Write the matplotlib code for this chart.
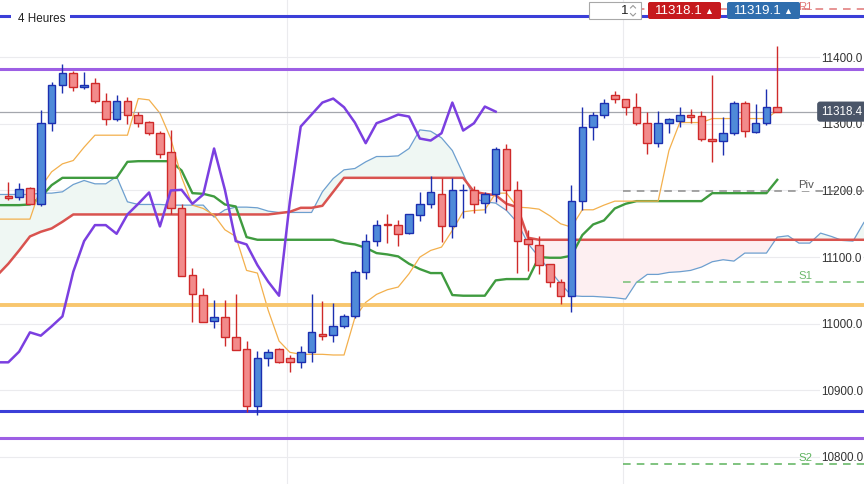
import matplotlib.pyplot as plt
import numpy as np
from matplotlib.patches import FancyBboxPatch, Rectangle
from matplotlib.ticker import FormatStrFormatter

plt.rcParams['font.family'] = ['Liberation Sans', 'DejaVu Sans']

# 4h candles, index 0..71
opens = [11192, 11190, 11203, 11180, 11301, 11358, 11377, 11355, 11361, 11335,
         11308, 11335, 11314, 11303, 11287, 11258, 11173, 11073, 11043, 11004,
         11010, 10980, 10962, 10876, 10948, 10962, 10948, 10943, 10958, 10985,
         10983, 10996, 11011, 11078, 11124, 11150, 11148, 11136, 11163, 11180,
         11195, 11146, 11200, 11201, 11181, 11194, 11263, 11201, 11127, 11118,
         11090, 11063, 11042, 11184, 11296, 11314, 11343, 11338, 11325, 11302,
         11271, 11301, 11305, 11314, 11312, 11278, 11275, 11286, 11332, 11288,
         11301, 11326]
highs = [11212, 11211, 11205, 11321, 11363, 11390, 11379, 11378, 11369, 11347,
         11343, 11340, 11318, 11305, 11290, 11291, 11180, 11084, 11054, 11036,
         11035, 11045, 10974, 10959, 10962, 10963, 10953, 10967, 11044, 11034,
         11031, 11014, 11080, 11135, 11156, 11165, 11155, 11165, 11198, 11222,
         11219, 11218, 11209, 11206, 11198, 11266, 11270, 11214, 11140, 11132,
         11090, 11067, 11208, 11325, 11318, 11337, 11349, 11338, 11346, 11318,
         11319, 11309, 11326, 11323, 11319, 11373, 11311, 11334, 11334, 11330,
         11352, 11417]
lows = [11186, 11185, 11179, 11177, 11290, 11347, 11350, 11352, 11331, 11299,
        11305, 11300, 11296, 11283, 11249, 11164, 11071, 11003, 11002, 10994,
        10967, 10960, 10868, 10863, 10937, 10941, 10927, 10934, 10942, 10976,
        10972, 10994, 11009, 11067, 11116, 11121, 11117, 11134, 11154, 11174,
        11122, 11129, 11158, 11166, 11166, 11183, 11170, 11076, 11079, 11074,
        11055, 11029, 11017, 11170, 11276, 11309, 11331, 11313, 11299, 11255,
        11266, 11287, 11296, 11301, 11275, 11243, 11254, 11284, 11281, 11287,
        11298, 11318]
closes = [11189, 11202, 11180, 11301, 11358, 11376, 11355, 11359, 11335, 11308,
          11335, 11314, 11302, 11287, 11255, 11173, 11072, 11045, 11003, 11010,
          10980, 10960, 10876, 10948, 10957, 10942, 10942, 10958, 10987, 10982,
          10996, 11011, 11078, 11124, 11148, 11148, 11135, 11164, 11180, 11197,
          11146, 11200, 11201, 11180, 11194, 11263, 11201, 11124, 11119, 11088,
          11063, 11042, 11184, 11296, 11314, 11332, 11338, 11325, 11302, 11271,
          11301, 11307, 11314, 11311, 11278, 11275, 11286, 11332, 11290, 11301,
          11326, 11318.4]

# Ichimoku lines, starting at index -1
tenkan = [11157, 11157, 11157, 11157, 11205, 11228, 11240, 11245, 11265, 11283,
          11283, 11283, 11283, 11338, 11336, 11316, 11278, 11220, 11178, 11173,
          11163, 11141, 11131, 11080, 11076, 11020, 10974, 10957, 10954, 10954,
          10954, 10953, 10953, 11009, 11032, 11044, 11051, 11055, 11075, 11100,
          11110, 11115, 11140, 11168, 11170, 11171, 11196, 11196, 11175, 11174,
          11172, 11162, 11150, 11145, 11171, 11171, 11178, 11184, 11184, 11184,
          11184, 11184, 11260, 11302, 11302, 11302, 11308, 11308, 11308, 11308,
          11308, 11308, 11320]
kijun = [11178, 11178, 11178, 11179, 11190, 11208, 11219, 11219, 11219, 11219,
         11219, 11219, 11243, 11244, 11244, 11244, 11244, 11230, 11196, 11195,
         11191, 11179, 11176, 11130, 11126, 11126, 11126, 11126, 11126, 11126,
         11126, 11126, 11121, 11119, 11114, 11106, 11104, 11101, 11090, 11082,
         11076, 11076, 11043, 11042, 11042, 11042, 11065, 11067, 11067, 11067,
         11100, 11099, 11099, 11102, 11133, 11149, 11155, 11173, 11180, 11184,
         11184, 11184, 11184, 11184, 11184, 11184, 11196, 11196, 11196, 11196,
         11196, 11196, 11216]
# senkou spans, index -1..79
span_a = [11194, 11194, 11194, 11194, 11196, 11196, 11198, 11209, 11215, 11210,
          11210, 11221, 11183, 11179, 11179, 11179, 11178, 11178, 11178, 11178,
          11160, 11171, 11175, 11175, 11174, 11169, 11167, 11167, 11167, 11167,
          11198, 11218, 11231, 11233, 11243, 11251, 11251, 11252, 11263, 11291,
          11289, 11279, 11260, 11225, 11188, 11183, 11181, 11170, 11152, 11120,
          11100, 11080, 11060, 11042, 11041, 11041, 11040, 11039, 11037, 11062,
          11074, 11074, 11077, 11078, 11080, 11085, 11093, 11096, 11094, 11106,
          11106, 11106, 11130, 11132, 11121, 11121, 11136, 11131, 11125, 11124,
          11152]
span_b = ([11073, 11090, 11110, 11131, 11138, 11143, 11153] + [11164] * 19 +
          [11166, 11168, 11174, 11174, 11177, 11198] + [11219] * 12 +
          [11198, 11195, 11193, 11180, 11175, 11129] + [11126] * 31)
lag = 26

# horizontal levels
blue_levels = [11462, 10869]
purple_levels = [11382, 10828]
orange_level = 11028
pivots = {'R1': 11472, 'Piv': 11199, 'S1': 11062, 'S2': 10790}
pivot_start = 56.8
last_price = 11318.4
bid, ask = '11318.1', '11319.1'
day_marks = [25.73, 56.76]

o = np.array(opens)
h = np.array(highs)
l = np.array(lows)
c = np.array(closes)
idx = np.arange(len(c))
ix1 = np.arange(-1, len(tenkan) - 1)
ixs = np.arange(-1, len(span_a) - 1)
sa = np.array(span_a)
sb = np.array(span_b)

fig = plt.figure(figsize=(8.64, 4.84), dpi=100)
ax = fig.add_axes([0, 0, 1, 1])
ax.set_xlim(-0.766, 79.01)
ax.set_ylim(10759.3, 11486)
for s in ax.spines.values():
    s.set_visible(False)

ax.set_yticks(np.arange(10800, 11401, 100))
ax.yaxis.set_major_formatter(FormatStrFormatter('%.1f'))
ax.yaxis.tick_right()
ax.tick_params(axis='y', length=0, pad=-31, labelsize=8.4, labelcolor='#333333')
for lbl in ax.get_yticklabels():
    lbl.set_bbox(dict(fc='white', ec='none', pad=1.0))
ax.set_xticks(day_marks)
ax.tick_params(axis='x', length=0, labelbottom=False)
ax.grid(True, color='#ebebee', lw=0.8)
ax.set_axisbelow(True)

# cloud
ax.fill_between(ixs, sa, sb, where=sa >= sb, interpolate=True, color='#eff7f3', lw=0, zorder=1)
ax.fill_between(ixs, sa, sb, where=sa < sb, interpolate=True, color='#fdeff1', lw=0, zorder=1)
ax.plot(ixs, sa, color='#6d9fcf', lw=0.9, zorder=2)
ax.plot(ixs, sb, color='#d9534f', lw=1.8, zorder=2)

ax.plot(ix1, kijun, color='#3f9b3f', lw=1.7, zorder=2.2)
ax.plot(ix1, tenkan, color='#f3b04d', lw=0.9, zorder=2.3)

# levels
for y in blue_levels:
    ax.axhline(y, color='#3b3fd8', lw=2.2, zorder=2.4)
for y in purple_levels:
    ax.axhline(y, color='#9d5fe4', lw=2.2, zorder=2.4)
ax.axhline(orange_level, color='#f8c66e', lw=2.8, zorder=2.4)
ax.axhline(last_price, color='#a4a7ad', lw=0.9, zorder=2.4)

piv_style = {'R1': ('#e07777', '#e07777'), 'Piv': ('#8c8c8c', '#555555'),
             'S1': ('#74c074', '#6cb86c'), 'S2': ('#5db35d', '#5db35d')}
ytr = ax.get_yaxis_transform()
for name, y in pivots.items():
    lc, tc = piv_style[name]
    ax.hlines(y, pivot_start, 80, colors=lc, lw=1.1, linestyles=(0, (5, 4)), zorder=2.4)
    dy = -4.5 if name == 'R1' else 1.5
    box = dict(fc='white', ec='none', pad=0.5) if name == 'Piv' else None
    ax.text(0.924, y + dy, name, transform=ytr, color=tc, fontsize=8.2,
            va='bottom', ha='left', zorder=6, bbox=box)

# candles
up = c >= o
fill = np.where(up, '#4f8ad9', '#f28b8b')
edge = np.where(up, '#1c2fb0', '#cf2a2a')
ax.vlines(idx, l, h, colors=edge, lw=1.0, zorder=3)
bottom = np.minimum(o, c)
height = np.maximum(np.abs(c - o), 1.0)
ax.bar(idx, height, bottom=bottom, width=0.7, color=fill, edgecolor=edge,
       linewidth=1.0, zorder=3.5)

# lagging span
ax.plot(idx[lag - 1:] - lag, c[lag - 1:], color='#7b3fe0', lw=1.8, zorder=4)

# last price tag
ax.text(0.9505, last_price, f'{last_price:.1f}', transform=ytr, color='white',
        fontsize=8.4, va='center', ha='left', zorder=7,
        bbox=dict(boxstyle='round,pad=0.35,rounding_size=0.25', fc='#4a5568', ec='none'))

# UI overlay in pixel space
ui = fig.add_axes([0, 0, 1, 1], zorder=5)
ui.set_xlim(0, 864)
ui.set_ylim(484, 0)
ui.axis('off')
ui.patch.set_alpha(0)

ui.add_patch(FancyBboxPatch((11, 11), 59, 16, boxstyle='round,pad=0,rounding_size=3',
                            fc='white', ec='none'))
ui.text(18, 19.5, '4 Heures', fontsize=8.4, color='#222222', va='center', ha='left')

ui.add_patch(Rectangle((589, 2), 52, 17, fc='white', ec='#a8a8a8', lw=0.8))
ui.text(628, 11, '1', fontsize=9.6, color='#222222', va='center', ha='right')
ui.plot([630.5, 633, 635.5], [8, 5.5, 8], color='#999999', lw=0.8)
ui.plot([630.5, 633, 635.5], [13.5, 16, 13.5], color='#999999', lw=0.8)

for x0, price, col in [(648, bid, '#c6191d'), (727, ask, '#2f6eae')]:
    ui.add_patch(FancyBboxPatch((x0, 2), 73, 17, boxstyle='round,pad=0,rounding_size=2',
                                fc=col, ec='none'))
    ui.text(x0 + 7, 11, price, fontsize=9.6, color='white', va='center', ha='left')
    ui.text(x0 + 65, 11.5, '\u25b2', fontsize=6.5, color='white', va='center', ha='right')

fig.savefig('out.png', dpi=100)
